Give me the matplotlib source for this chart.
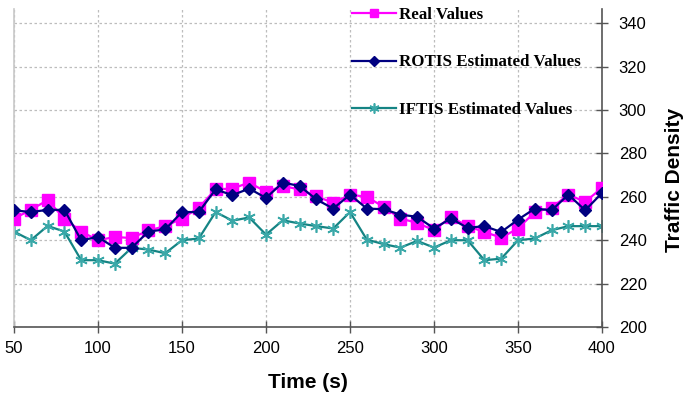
import matplotlib.pyplot as plt
import numpy as np

plt.rcParams['font.family'] = ['Liberation Sans', 'DejaVu Sans']

# time axis (s)
time = [50, 60, 70, 80, 90, 100, 110, 120, 130, 140, 150, 160, 170, 180, 190,
        200, 210, 220, 230, 240, 250, 260, 270, 280, 290, 300, 310, 320, 330,
        340, 350, 360, 370, 380, 390, 400]

real = [250, 254, 258.5, 250, 244, 240, 241.5, 241, 244.5, 246.5, 250, 255,
        263.5, 263.8, 266.6, 262.3, 265, 263.4, 260.3, 257.2, 261, 260,
        255.4, 250, 248, 244.6, 250.8, 246.5, 243.8, 241.2, 245.4, 253, 255,
        261, 257.7, 264.2]

rotis = [253.8, 253, 254, 254, 240, 241.5, 236.5, 236.5, 244, 245, 253, 253,
         263.4, 260.8, 263.8, 259.5, 266.6, 265, 258.8, 254.6, 261, 254.6,
         254.3, 251.8, 250.8, 245.4, 250, 245.7, 246.5, 243.8, 249.5, 254.6,
         253.8, 261, 253.8, 261.8]

iftis = [244, 240, 246.6, 244, 230.8, 230.8, 229.2, 236.5, 235.7, 234, 240,
         240.8, 253, 249, 250.5, 242.6, 249.2, 247.7, 246.5, 245.4, 253, 240.3,
         238.2, 236.6, 239.7, 236.6, 240, 240, 230.8, 231.5, 240, 240.8, 244.6,
         246.5, 246.5, 246.5]

labels = ['Real Values', 'ROTIS Estimated Values', 'IFTIS Estimated Values']

fig = plt.figure(figsize=(6.86, 3.97), dpi=100)
ax = fig.add_axes([14/686, 70/397, 588/686, 318/397])

ax.plot(time, real, color='#ff00ff', lw=1.6, marker='s', ms=8,
        label=labels[0], zorder=3)
ax.plot(time, rotis, color='#000080', lw=1.6, marker='D', ms=6.5,
        label=labels[1], zorder=4)
ax.plot(time, iftis, color='#158484', lw=1.6, marker=(6, 2, 0), ms=9,
        mec='#3aa8a8', mew=1.2, label=labels[2], zorder=2)

ax.set_xlim(50, 400)
ax.set_ylim(200, 346.6)
ax.set_xticks(np.arange(50, 401, 50))
ax.set_yticks(np.arange(200, 341, 20))

ax.yaxis.tick_right()
ax.grid(True, color='#bdbdbd', ls=(0, (2, 2)), lw=0.9)

ax.spines['top'].set_visible(False)
ax.spines['left'].set_color('#c8c8c8')
ax.spines['left'].set_linewidth(1.2)
ax.spines['bottom'].set_color('#555555')
ax.spines['right'].set_color('#555555')
ax.spines['bottom'].set_linewidth(1.2)
ax.spines['right'].set_linewidth(1.2)

ax.tick_params(axis='x', direction='inout', length=8, width=1,
               color='#555555', labelsize=12, pad=6)
ax.tick_params(axis='y', direction='inout', length=8, width=1,
               color='#555555', labelsize=12, pad=8, left=False)

ax.set_xlabel('Time (s)', fontsize=15, fontweight='bold', labelpad=12)
fig.text(675/686, 1 - 180/397, 'Traffic Density', rotation=90,
         ha='center', va='center', fontsize=15, fontweight='bold')

leg = ax.legend(loc='upper left', bbox_to_anchor=(338/588, 1.006),
                frameon=False, labelspacing=1.85, handlelength=2.6,
                handletextpad=0.2, markerscale=0.8, borderaxespad=0,
                borderpad=0,
                prop={'family': 'Liberation Serif', 'weight': 'bold',
                      'size': 12.2})

fig.savefig('out.png', dpi=100)
